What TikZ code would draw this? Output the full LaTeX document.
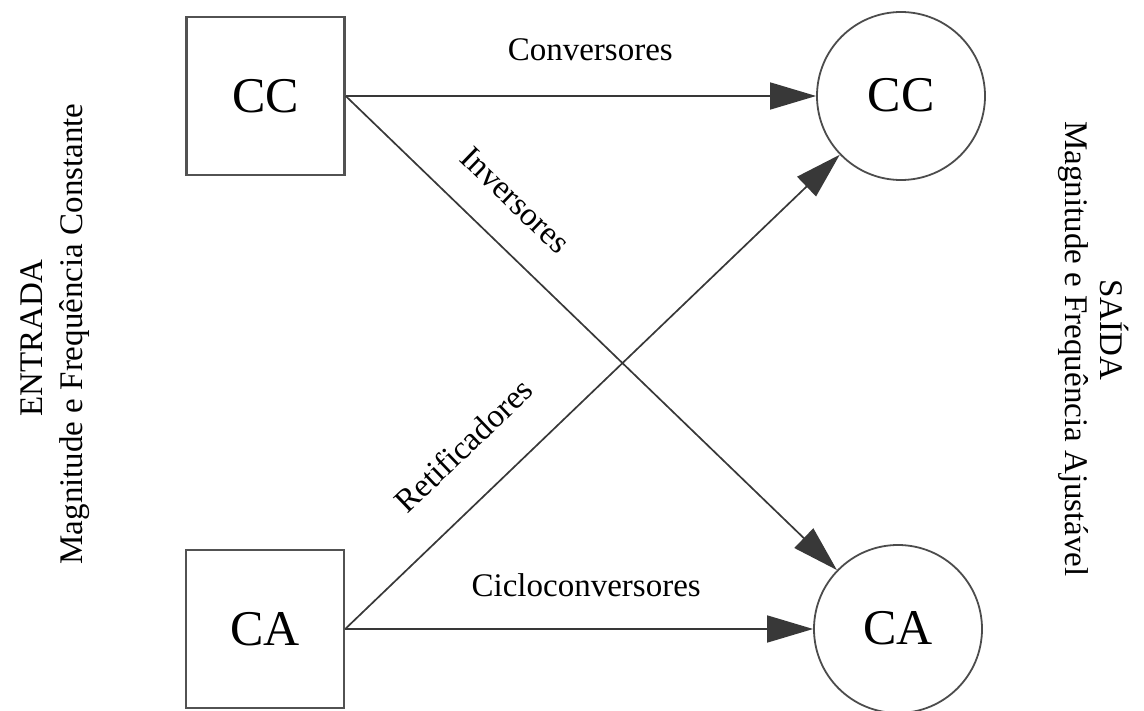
\documentclass[tikz,border=0pt]{standalone}
\usepackage{fontspec}
\setmainfont{Liberation Serif}
\usetikzlibrary{arrows.meta}
\begin{document}
\begin{tikzpicture}[x=1pt,y=-1pt,
  boxnode/.style={draw=black!68, line width=2.4pt, minimum width=158pt, minimum height=158pt, inner sep=0pt, font=\fontsize{50}{60}\selectfont},
  circnode/.style={circle, draw=black!70, line width=1.8pt, minimum size=168pt, inner sep=0pt, font=\fontsize{50}{60}\selectfont},
  conn/.style={draw=black!78, line width=1.7pt, -{Triangle[length=46pt,width=27pt]}},
  lbl/.style={font=\fontsize{33}{40}\selectfont, inner sep=0pt},
  side/.style={font=\fontsize{33}{40}\selectfont, inner sep=0pt, anchor=base}]
\useasboundingbox (0,0) rectangle (1144,711);
\node[boxnode] (ccin) at (265.5,96) {CC};
\node[boxnode] (cain) at (265,629) {CA};
\node[circnode] (ccout) at (901,96) {\raisebox{3pt}{CC}};
\node[circnode] (caout) at (898,629) {\raisebox{2pt}{CA}};
\draw[conn] (ccin.east) -- node[lbl, above=34pt, pos=0.52] (lconv) {Conversores} (ccout);
\draw[conn] (ccin.east) -- node[lbl, sloped, above=31pt, pos=0.285] (linv) {Inversores} (caout);
\draw[conn] (cain.east) -- node[lbl, sloped, above=38pt, pos=0.31] (lret) {Retificadores} (ccout);
\draw[conn] (cain.east) -- node[lbl, above=31pt, pos=0.515] (lciclo) {Cicloconversores} (caout);
\node[side, rotate=90] (entrada) at (42,338) {ENTRADA};
\node[side, rotate=90] (magin) at (82,334) {Magnitude e Frequência Constante};
\node[side, rotate=-90] (saida) at (1100,330) {SAÍDA};
\node[side, rotate=-90] (magout) at (1065,349) {Magnitude e Frequência Ajustável};
\end{tikzpicture}
\end{document}
